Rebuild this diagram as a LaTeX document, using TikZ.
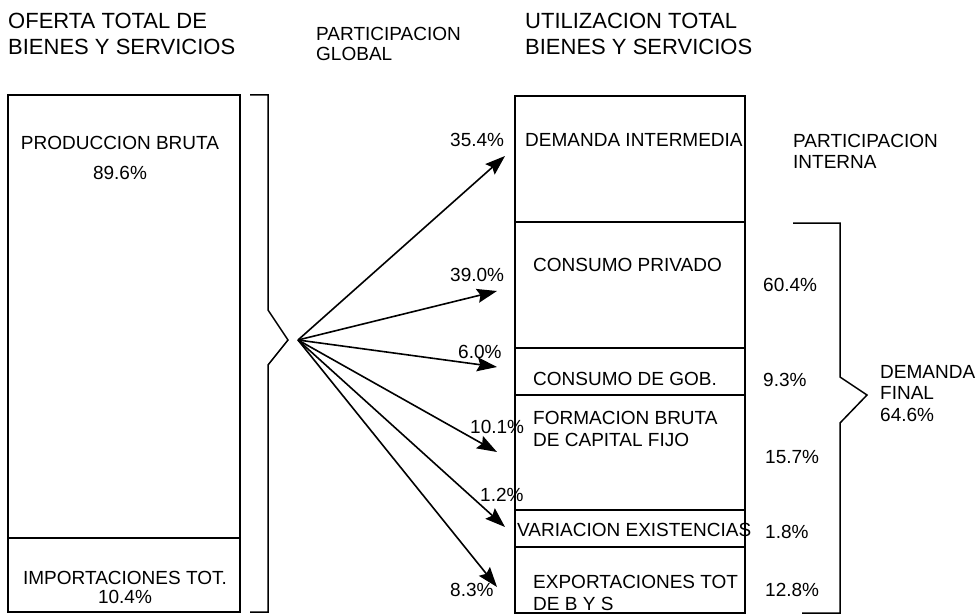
\documentclass[tikz,border=0pt]{standalone}
\usepackage{fontspec}
\setmainfont{Liberation Sans}
\usetikzlibrary{arrows.meta, calc}

\tikzset{
    box/.style={line width=2pt},
    brace/.style={line width=1.5pt},
    flow/.style={line width=1.6pt, -{Stealth[length=20pt, width=14pt, inset=3pt]}},
    lbl/.style={font=\fontsize{19}{22}\selectfont, inner sep=0pt, align=left, anchor=north west},
    ttl/.style={font=\fontsize{22}{26}\selectfont, inner sep=0pt, align=left, anchor=north west},
    mid/.style={font=\fontsize{19}{22}\selectfont, inner sep=0pt, align=center, anchor=north},
}

\begin{document}
\begin{tikzpicture}[x=1pt, y=-1pt]
    \useasboundingbox (0,0) rectangle (980,615);

    % hub of the arrows and arrow tips
    \coordinate (hub) at (298,340);
    \coordinate (t1) at (505,156);
    \coordinate (t2) at (497,291);
    \coordinate (t3) at (497,367);
    \coordinate (t4) at (497,452);
    \coordinate (t5) at (505,527);
    \coordinate (t6) at (497,587);

    % titles
    \node[ttl] (oferta) at (8,13) {OFERTA TOTAL DE\\BIENES Y SERVICIOS};
    \node[ttl] (utiliz) at (525,13) {UTILIZACION TOTAL\\BIENES Y SERVICIOS};
    \node[lbl, font=\fontsize{19}{20}\selectfont] (global) at (316,27) {PARTICIPACION\\GLOBAL};
    \node[lbl, font=\fontsize{19}{21}\selectfont] (interna) at (793,134) {PARTICIPACION\\INTERNA};

    % left column
    \draw[box] (8,95) rectangle (240,612);
    \draw[box] (8,538) -- (240,538);
    \node[mid, font=\fontsize{19}{30}\selectfont] (prod) at (120,136) {PRODUCCION BRUTA\\89.6\%};
    \node[mid, font=\fontsize{19}{19}\selectfont] (impo) at (125,571) {IMPORTACIONES TOT.\\10.4\%};

    % left brace
    \draw[brace] (250,95) -- (268,95) -- (268,310) -- (288,340)
        -- (268,365) -- (268,612) -- (250,612);

    % right column
    \draw[box] (515,96) rectangle (745,613);
    \foreach \y in {222,348,395,510,547}
    {
        \draw[box] (515,\y) -- (745,\y);
    }

    % right brace
    \draw[brace] (793,223) -- (840,223) -- (840,377) -- (867,395)
        -- (840,423) -- (840,613) -- (802,613);

    % labels in the right column
    \foreach \name/\x/\y/\txt in {
        dint/525/133/DEMANDA INTERMEDIA,
        cpriv/533/258/CONSUMO PRIVADO,
        cgob/533/372/CONSUMO DE GOB.,
        fbkf/533/411/{FORMACION BRUTA\\DE CAPITAL FIJO},
        vexis/517/523/VARIACION EXISTENCIAS,
        expo/533/575/{EXPORTACIONES TOT\\DE B Y S}}{
        \node[lbl] (\name) at (\x,\y) {\txt};
    }

    % internal shares
    \foreach \name/\x/\y/\val in {
        i2/763/278/60.4,
        i3/763/373/9.3,
        i4/765/450/15.7,
        i5/765/525/1.8,
        i6/765/583/12.8}{
        \node[lbl] (\name) at (\x,\y) {\val\%};
    }
    \node[lbl, font=\fontsize{19}{21.5}\selectfont] (dfinal) at (880,365) {DEMANDA\\FINAL\\64.6\%};

    % arrows with global shares
    \foreach \point/\x/\y/\val in {
        t1/450/133/35.4,
        t2/450/268/39.0,
        t3/458/345/6.0,
        t4/470/420/10.1,
        t5/480/488/1.2,
        t6/450/583/8.3}{
        \draw[flow] (hub) -- (\point);
        \node[lbl] (g\point) at (\x,\y) {\val\%};
    }
\end{tikzpicture}
\end{document}
